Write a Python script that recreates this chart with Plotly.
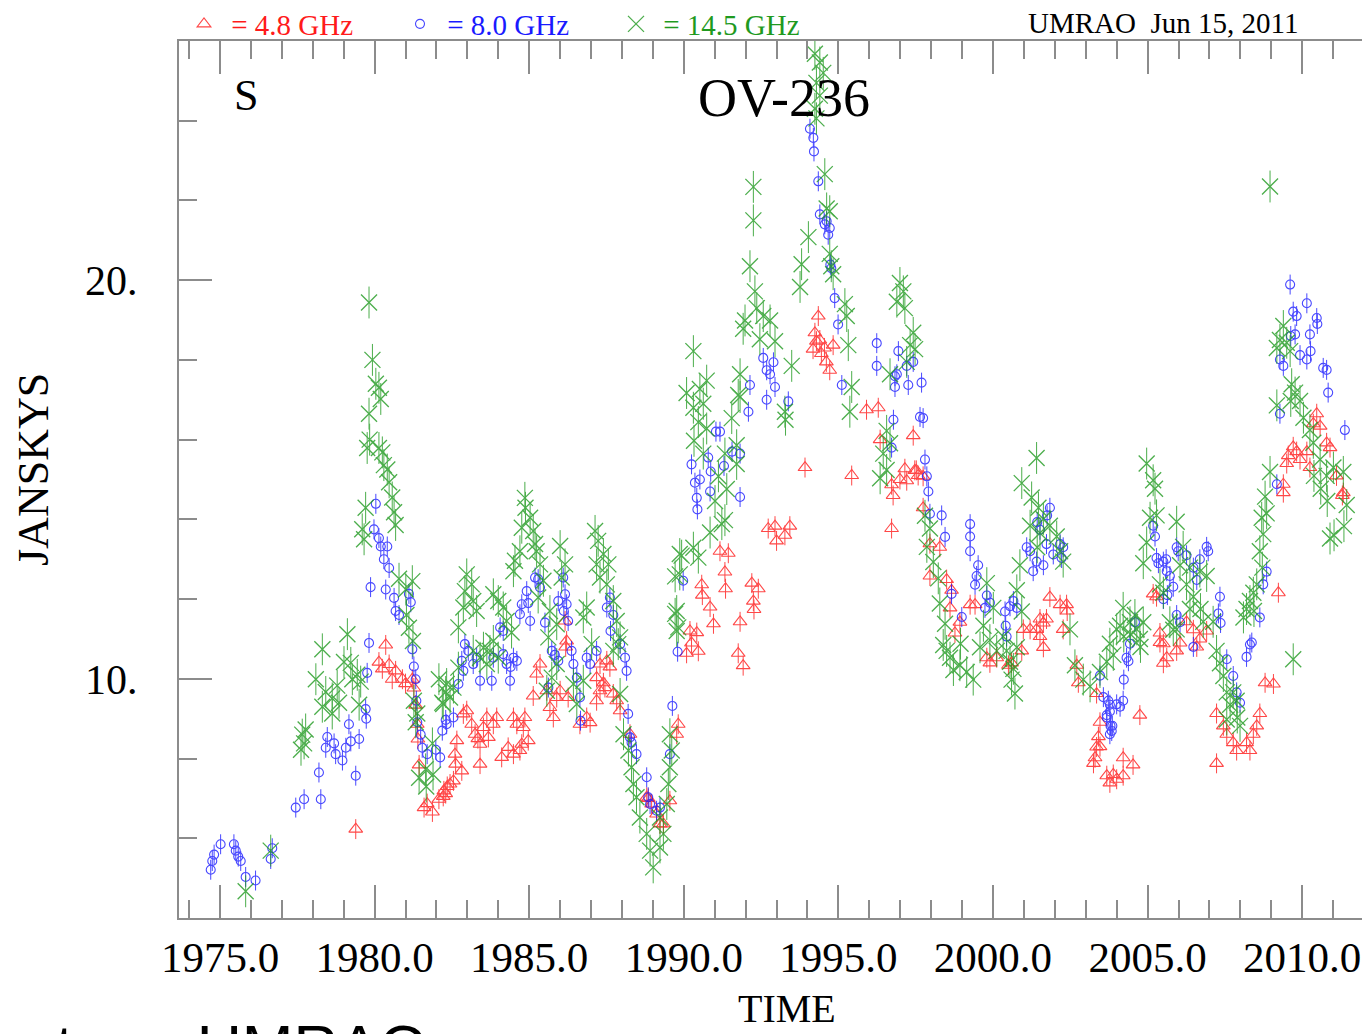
import plotly.graph_objects as go

# ---------------- data (decimal year, flux density in Jy) ----------------
red_t = [1979.39, 1980.36, 1980.14, 1980.25, 1980.47, 1980.68, 1980.57, 1980.90, 1981.00, 1981.22,
         1981.27, 1981.33, 1981.38, 1981.40, 1981.44, 1981.60, 1981.70, 1981.87, 1982.08, 1982.24,
         1982.35, 1982.44, 1982.30, 1982.55, 1982.22, 1982.66, 1982.60, 1982.62, 1982.82, 1982.87,
         1982.98, 1983.14, 1983.25, 1983.41, 1983.52, 1983.63, 1983.68, 1983.84, 1983.95, 1983.41,
         1983.34, 1984.11, 1984.32, 1984.49, 1984.60, 1984.49, 1984.81, 1984.86, 1984.76, 1984.97,
         1984.70, 1985.13, 1985.24, 1985.35, 1985.57, 1985.67, 1985.78, 1985.89, 1986.00, 1986.16,
         1986.21, 1986.18, 1986.26, 1986.86, 1986.64, 1986.97, 1987.29, 1987.51, 1987.61, 1987.18,
         1987.40, 1987.29, 1987.18, 1987.45, 1987.72, 1987.83, 1987.94, 1988.26, 1988.80, 1988.85,
         1988.96, 1989.12, 1989.23, 1989.34, 1989.55, 1989.77, 1989.82, 1990.20, 1990.42, 1990.25,
         1990.09, 1990.47, 1990.58, 1990.60, 1990.85, 1990.96, 1991.17, 1991.44, 1991.33, 1991.35,
         1991.82, 1991.76, 1991.92, 1992.20, 1992.41, 1992.25, 1992.27, 1992.73, 1992.95, 1993.43,
         1993.00, 1993.27, 1993.92, 1994.35, 1994.24, 1994.29, 1994.18, 1994.45, 1994.61, 1994.72,
         1994.83, 1994.40, 1994.55, 1995.43, 1995.91, 1996.29, 1996.35, 1996.72, 1996.77, 1996.72,
         1997.21, 1997.42, 1997.58, 1997.74, 1997.15, 1997.47, 1997.52, 1996.99, 1997.74, 1997.96,
         1998.28, 1997.96, 1998.50, 1998.66, 1998.61, 1998.77, 1999.26, 1999.42, 1998.93, 1999.80,
         1999.90, 2000.12, 2000.50, 2000.60, 2000.93, 2000.98, 2001.20, 2001.41, 2001.52, 2001.63,
         2001.73, 2001.52, 2001.63, 2001.84, 2002.17, 2002.38, 2002.40, 2002.27, 2002.71, 2002.76,
         2003.35, 2003.46, 2003.41, 2003.35, 2003.30, 2003.68, 2003.78, 2004.00, 2004.21, 2004.21,
         2004.53, 2004.75, 2003.25, 2003.89, 2003.46, 2005.18, 2005.40, 2005.51, 2005.62, 2005.94,
         2005.29, 2005.40, 2005.51, 2006.05, 2006.26, 2006.48, 2006.59, 2006.69, 2006.91, 2007.23,
         2007.45, 2007.56, 2007.77, 2007.88, 2008.20, 2008.42, 2008.53, 2008.63, 2008.31, 2007.23,
         2008.80, 2009.07, 2009.23, 2009.39, 2009.39, 2009.50, 2009.55, 2009.71, 2009.82, 2009.93,
         2010.15, 2010.25, 2010.36, 2010.47, 2010.58, 2010.79, 2010.90, 2011.11, 2011.33, 2011.30]
red_s = [6.23, 10.85, 10.42, 10.25, 10.36, 10.20, 9.99, 9.99, 9.88, 9.99,
         9.77, 9.34, 8.86, 8.49, 7.84, 6.77, 6.87, 6.66, 6.98, 7.19,
         7.30, 7.36, 7.12, 7.44, 7.05, 8.45, 8.11, 7.86, 7.69, 9.12,
         9.20, 8.86, 8.61, 8.36, 8.78, 9.03, 8.53, 8.86, 9.03, 7.86,
         8.50, 8.03, 8.28, 8.11, 8.86, 9.03, 8.78, 9.03, 8.36, 8.45,
         8.20, 9.57, 10.12, 10.37, 9.70, 9.28, 9.03, 9.53, 9.70, 11.45,
         10.95, 10.80, 9.53, 9.03, 8.86, 8.90, 10.37, 10.45, 10.30, 10.03,
         9.90, 9.70, 9.45, 9.78, 9.62, 9.45, 9.20, 8.61, 7.03, 7.00,
         6.86, 6.61, 6.36, 6.36, 6.94, 8.61, 8.86, 11.20, 11.16, 10.90,
         10.64, 10.69, 12.36, 12.10, 11.80, 11.38, 13.20, 13.15, 12.68, 12.26,
         11.43, 10.64, 10.33, 12.40, 12.26, 11.95, 11.74, 13.77, 13.83, 13.83,
         13.46, 13.60, 15.30, 19.10, 18.68, 18.47, 18.27, 18.16, 17.95, 17.74,
         18.37, 18.50, 18.30, 15.10, 16.75, 16.80, 16.00, 14.87, 14.60, 13.77,
         14.97, 16.10, 15.10, 15.08, 15.27, 15.23, 15.23, 15.00, 14.29, 13.39,
         13.30, 12.58, 12.49, 12.22, 11.78, 11.15, 11.86, 11.86, 11.42, 10.53,
         10.40, 10.53, 10.34, 10.40, 10.70, 11.24, 11.24, 11.24, 11.50, 11.40,
         11.50, 11.06, 10.79, 12.05, 11.86, 11.86, 11.70, 11.24, 10.34, 9.90,
         9.63, 8.91, 8.55, 8.29, 8.02, 7.57, 7.39, 7.48, 7.57, 8.02,
         7.84, 9.09, 7.88, 7.60, 8.30, 12.13, 11.15, 10.88, 10.53, 10.70,
         12.06, 10.91, 10.39, 10.90, 11.43, 11.23, 10.80, 11.00, 11.20, 9.13,
         8.82, 8.61, 8.40, 8.20, 8.40, 8.61, 8.82, 9.13, 8.20, 7.88,
         9.90, 9.87, 12.16, 14.88, 14.67, 15.40, 15.60, 15.82, 15.70, 15.50,
         15.70, 15.30, 16.40, 16.65, 16.34, 15.92, 15.80, 15.09, 14.67, 14.60]

blue_t = [1974.70, 1974.75, 1974.81, 1975.02, 1975.45, 1975.51, 1975.59, 1975.67, 1975.83, 1976.15,
          1976.69, 1976.64, 1977.45, 1977.72, 1978.26, 1978.20, 1978.47, 1978.42, 1978.69, 1978.74,
          1978.96, 1979.07, 1979.17, 1979.23, 1979.50, 1979.39, 1979.71, 1979.73, 1979.76, 1979.82,
          1979.87, 1980.04, 1979.98, 1980.14, 1980.20, 1980.41, 1980.30, 1980.47, 1980.36, 1980.63,
          1980.68, 1980.79, 1981.11, 1981.17, 1981.22, 1981.27, 1981.33, 1981.35, 1981.38, 1981.49,
          1981.54, 1981.70, 1981.98, 1982.19, 1982.30, 1982.33, 1982.55, 1982.71, 1982.12, 1982.92,
          1983.03, 1982.82, 1982.87, 1983.19, 1983.41, 1983.30, 1983.79, 1983.84, 1984.16, 1984.27,
          1984.38, 1984.60, 1984.49, 1984.40, 1984.06, 1984.16, 1984.70, 1984.76, 1984.92, 1985.03,
          1985.19, 1985.29, 1985.35, 1984.97, 1985.51, 1985.73, 1985.83, 1985.62, 1985.94, 1986.10,
          1986.16, 1985.94, 1986.21, 1986.12, 1986.26, 1986.37, 1986.43, 1986.54, 1986.64, 1986.66,
          1986.86, 1986.97, 1987.18, 1987.61, 1987.51, 1987.72, 1987.63, 1987.94, 1988.10, 1988.15,
          1988.20, 1988.26, 1988.31, 1988.47, 1988.80, 1988.85, 1988.91, 1989.12, 1989.23, 1989.55,
          1989.63, 1989.80, 1989.98, 1990.25, 1990.36, 1990.42, 1990.44, 1991.17, 1990.79, 1990.52,
          1990.85, 1991.82, 1991.82, 1990.87, 1991.04, 1991.56, 1991.30, 1992.14, 1992.09, 1992.57,
          1992.68, 1992.79, 1992.90, 1992.95, 1992.68, 1993.38, 1994.08, 1994.19, 1994.21, 1994.35,
          1994.40, 1994.62, 1994.72, 1994.67, 1994.74, 1994.88, 1994.99, 1994.56, 1994.77, 1995.11,
          1996.24, 1996.24, 1996.94, 1996.89, 1997.21, 1997.42, 1997.26, 1997.69, 1996.83, 1996.78,
          1997.74, 1996.72, 1997.80, 1997.86, 1997.91, 1997.96, 1998.34, 1998.45, 1996.83, 1997.64,
          1998.66, 1998.99, 1999.26, 1999.26, 1999.26, 1999.52, 1999.47, 1999.42, 1999.80, 1999.90,
          1999.74, 2000.39, 2000.55, 2000.77, 2000.66, 2000.41, 2000.44, 2001.09, 2001.20, 2001.41,
          2001.63, 2001.30, 2001.73, 2001.84, 2001.52, 2001.95, 2002.17, 2002.22, 2002.27, 2001.43,
          2001.75, 2003.46, 2003.57, 2003.73, 2003.78, 2003.68, 2003.80, 2003.84, 2004.00, 2004.21,
          2004.23, 2004.32, 2004.43, 2004.59, 2005.18, 2005.24, 2005.29, 2005.51, 2005.62, 2005.72,
          2005.94, 2005.83, 2005.64, 2006.05, 2005.35, 2005.60, 2005.99, 2006.26, 2006.48, 2006.69,
          2006.91, 2006.96, 2006.59, 2007.34, 2007.29, 2007.36, 2006.48, 2005.94, 2005.51, 2004.38,
          2003.78, 2003.68, 2003.86, 2003.78, 2004.11, 2007.56, 2007.77, 2007.88, 2007.99, 2008.37,
          2008.20, 2008.31, 2008.63, 2008.74, 2008.85, 2009.18, 2009.28, 2009.61, 2009.71, 2009.82,
          2009.77, 2009.63, 2010.15, 2010.47, 2010.49, 2010.25, 2010.27, 2010.15, 2009.93, 2009.28,
          2009.39, 2010.68, 2010.79, 2010.84, 2011.38]
blue_s = [5.21, 5.43, 5.59, 5.85, 5.85, 5.69, 5.54, 5.43, 5.03, 4.94,
          5.75, 5.48, 6.77, 6.98, 6.98, 7.65, 8.54, 8.27, 8.38, 8.11,
          7.95, 8.27, 8.86, 8.43, 8.49, 7.57, 9.24, 9.00, 10.15, 10.90,
          12.30, 14.39, 13.75, 13.53, 13.32, 13.32, 13.00, 12.78, 12.24, 12.03,
          11.70, 11.60, 12.13, 11.92, 10.74, 10.31, 9.99, 9.45, 8.91, 8.60,
          8.27, 8.11, 8.22, 8.70, 8.97, 8.86, 9.03, 9.87, 8.03, 10.87,
          10.70, 10.45, 10.20, 10.37, 9.95, 10.53, 9.95, 10.53, 10.62, 10.37,
          9.95, 10.45, 10.53, 10.30, 11.29, 11.20, 11.62, 11.87, 12.20, 11.45,
          12.54, 12.50, 12.29, 11.90, 11.41, 10.70, 10.60, 9.78, 10.45, 12.54,
          12.12, 11.95, 11.87, 11.70, 11.45, 10.70, 10.37, 10.03, 9.53, 8.95,
          10.53, 10.37, 10.70, 12.04, 11.79, 11.60, 11.20, 10.87, 10.53, 10.20,
          9.12, 8.53, 8.40, 8.11, 7.53, 7.03, 6.86, 6.69, 6.77, 8.11,
          9.32, 10.68, 12.46, 15.38, 14.92, 14.54, 14.25, 16.20, 15.55, 15.00,
          14.70, 15.65, 14.56, 15.20, 16.20, 15.70, 15.34, 17.37, 16.70, 18.05,
          17.74, 17.64, 17.94, 17.32, 17.00, 16.96, 23.80, 23.57, 23.23, 22.48,
          21.65, 21.48, 21.31, 21.14, 20.39, 19.55, 18.89, 21.40, 20.30, 17.37,
          18.42, 17.85, 18.22, 17.64, 17.85, 17.95, 17.37, 17.43, 17.32, 16.50,
          16.54, 15.80, 15.50, 15.08, 14.70, 14.14, 14.10, 13.56, 17.59, 16.57,
          12.13, 11.55, 13.88, 13.57, 13.20, 12.85, 12.58, 12.36, 12.09, 11.91,
          11.78, 11.69, 11.82, 11.78, 11.95, 11.33, 11.06, 13.30, 13.20, 12.94,
          12.85, 12.70, 13.38, 14.29, 13.74, 13.12, 13.38, 13.03, 13.30, 13.93,
          14.10, 10.08, 9.54, 9.45, 9.18, 9.09, 8.82, 8.69, 9.36, 9.45,
          9.98, 10.53, 10.88, 11.42, 13.84, 13.57, 13.03, 12.94, 12.70, 12.58,
          13.30, 12.31, 12.10, 11.42, 12.90, 13.00, 13.20, 13.10, 12.79, 13.00,
          13.31, 13.20, 12.48, 12.06, 11.64, 11.40, 10.80, 11.60, 12.00, 10.44,
          9.35, 9.03, 8.82, 8.61, 9.30, 10.49, 10.07, 9.66, 9.40, 10.91,
          10.55, 10.86, 11.54, 12.37, 12.69, 14.88, 16.65, 19.89, 19.21, 19.10,
          18.64, 18.60, 19.42, 19.05, 18.90, 18.64, 18.22, 18.01, 18.12, 18.01,
          17.85, 17.80, 17.75, 17.18, 16.24]

green_t = [1975.83, 1976.64, 1977.66, 1977.72, 1977.62, 1977.77, 1978.10, 1978.31, 1978.42, 1978.31,
           1978.63, 1978.79, 1979.12, 1979.01, 1979.23, 1979.28, 1979.44, 1979.50, 1979.55, 1978.63,
           1978.85, 1979.82, 1979.93, 1980.04, 1980.14, 1980.20, 1979.82, 1979.84, 1979.76, 1980.14,
           1980.25, 1980.30, 1980.41, 1980.47, 1980.57, 1980.63, 1980.68, 1979.71, 1979.60, 1979.66,
           1980.79, 1981.01, 1981.22, 1981.03, 1981.11, 1981.24, 1981.27, 1981.38, 1981.33, 1981.87,
           1981.65, 1981.44, 1981.67, 1981.89, 1982.08, 1982.30, 1982.19, 1982.98, 1983.14, 1982.92,
           1983.19, 1982.87, 1983.30, 1982.71, 1982.33, 1982.55, 1982.44, 1982.22, 1982.71, 1983.52,
           1983.73, 1983.41, 1983.63, 1983.84, 1983.19, 1984.00, 1983.84, 1984.00, 1984.16, 1984.27,
           1984.43, 1984.86, 1984.88, 1985.03, 1984.76, 1985.13, 1985.19, 1984.70, 1984.54, 1985.24,
           1984.49, 1985.35, 1985.46, 1985.29, 1985.67, 1985.89, 1986.00, 1986.16, 1986.05, 1985.62,
           1985.73, 1985.57, 1985.89, 1986.43, 1986.54, 1986.75, 1987.13, 1987.23, 1987.40, 1987.18,
           1987.56, 1987.29, 1987.51, 1986.86, 1986.75, 1987.02, 1987.72, 1987.83, 1987.94, 1987.88,
           1987.72, 1987.94, 1988.05, 1988.21, 1988.31, 1988.37, 1988.47, 1988.58, 1988.80, 1988.91,
           1989.01, 1989.23, 1989.34, 1989.23, 1989.45, 1989.50, 1989.55, 1989.61, 1989.55, 1989.87,
           1990.31, 1989.87, 1989.77, 1989.82, 1990.31, 1990.74, 1990.52, 1990.09, 1990.31, 1990.63,
           1990.47, 1990.74, 1990.33, 1990.63, 1991.33, 1991.71, 1991.71, 1991.12, 1991.39, 1991.01,
           1991.33, 1991.23, 1990.85, 1989.93, 1990.47, 1989.72, 1989.72, 1989.77, 1991.55, 1991.82,
           1992.25, 1992.25, 1992.14, 1992.30, 1992.36, 1991.98, 1991.92, 1992.57, 1992.79, 1992.46,
           1992.95, 1991.82, 1991.76, 1993.49, 1993.27, 1993.29, 1994.24, 1994.40, 1994.51, 1994.29,
           1994.40, 1994.24, 1994.29, 1994.56, 1994.62, 1994.72, 1994.77, 1994.83, 1994.03, 1993.81,
           1993.76, 1995.21, 1995.27, 1995.32, 1995.43, 1995.37, 1994.72, 1996.99, 1997.10, 1997.15,
           1996.89, 1997.42, 1997.32, 1997.48, 1997.21, 1996.67, 1996.56, 1996.67, 1996.45, 1996.56,
           1996.35, 1997.80, 1997.96, 1997.86, 1998.07, 1998.23, 1998.28, 1998.45, 1998.39, 1998.61,
           1998.72, 1998.50, 1998.93, 1999.15, 1999.36, 1998.95, 1999.80, 2000.01, 1999.69, 1999.90,
           1999.58, 2000.12, 2000.33, 2000.55, 2000.60, 2000.71, 2000.66, 2000.44, 2000.77, 2000.93,
           2000.77, 2000.87, 2000.93, 2001.25, 2001.41, 2001.47, 2001.63, 2001.20, 2001.52, 2001.84,
           2002.06, 2002.17, 2002.27, 2001.43, 2002.49, 2002.65, 2002.92, 2003.14, 2003.46, 2003.68,
           2003.78, 2004.00, 2004.21, 2004.23, 2004.43, 2004.65, 2004.86, 2004.59, 2004.75, 2003.89,
           2004.11, 2004.45, 2004.77, 2004.97, 2005.18, 2005.24, 2005.08, 2004.97, 2004.86, 2005.40,
           2005.51, 2005.94, 2006.15, 2006.37, 2006.69, 2006.91, 2006.26, 2006.48, 2006.37, 2005.83,
           2006.71, 2006.80, 2007.12, 2007.23, 2007.34, 2007.45, 2007.56, 2007.67, 2007.77, 2007.88,
           2007.90, 2007.99, 2007.56, 2005.29, 2005.72, 2005.94, 2006.05, 2008.96, 2009.39, 2009.50,
           2009.28, 2009.61, 2009.18, 2009.66, 2009.77, 2009.93, 2009.63, 2009.18, 2010.04, 2010.25,
           2010.36, 2010.58, 2010.38, 2010.79, 2011.01, 2011.33, 2010.60, 2010.81, 2011.44, 2011.35,
           2010.90, 2011.03, 2008.96, 2008.80, 2008.85, 2008.69, 2008.74, 2008.63, 2008.71, 2008.53,
           2008.42, 2008.31, 2008.20, 2008.44, 2008.10, 2009.71]
green_s = [4.67, 5.69, 8.60, 8.38, 8.22, 8.73, 9.99, 10.74, 9.67, 9.30,
           9.51, 9.83, 11.12, 10.42, 10.40, 9.99, 10.10, 9.35, 9.93, 9.13,
           9.40, 19.44, 18.00, 17.40, 17.30, 17.02, 16.65, 16.00, 15.79, 15.79,
           15.68, 15.36, 15.25, 14.93, 14.55, 14.18, 13.86, 14.29, 13.75, 13.50,
           12.51, 12.24, 12.45, 11.60, 11.28, 10.95, 9.45, 9.13, 8.91, 8.38,
           7.73, 7.52, 7.30, 7.60, 9.99, 9.67, 9.40, 12.62, 12.37, 12.20,
           11.95, 11.79, 11.70, 11.29, 9.87, 9.78, 9.53, 9.37, 10.28, 10.78,
           10.70, 10.53, 10.37, 10.95, 10.70, 10.53, 12.12, 11.95, 11.79, 11.45,
           11.16, 14.54, 14.29, 14.04, 13.79, 13.71, 13.38, 13.20, 12.96, 13.20,
           12.70, 12.87, 12.46, 12.04, 11.70, 11.37, 13.33, 12.87, 12.54, 11.04,
           10.03, 9.70, 10.37, 9.87, 9.37, 9.95, 13.71, 13.46, 13.13, 12.87,
           12.87, 12.54, 12.37, 11.79, 11.54, 10.87, 11.95, 11.45, 11.04, 10.87,
           10.70, 9.62, 8.61, 8.20, 7.78, 7.36, 7.03, 6.52, 6.11, 5.69,
           5.27, 5.77, 6.11, 6.52, 6.86, 7.36, 7.78, 8.20, 8.61, 13.13,
           13.29, 12.62, 11.70, 11.29, 18.22, 17.48, 17.27, 17.17, 16.80, 16.90,
           16.44, 16.28, 15.97, 15.65, 15.65, 15.86, 15.39, 15.08, 14.76, 14.46,
           13.98, 13.88, 13.67, 13.09, 13.04, 12.57, 11.63, 11.20, 16.54, 17.07,
           22.34, 21.50, 20.35, 19.72, 19.30, 18.99, 18.78, 19.10, 18.99, 18.52,
           18.47, 17.64, 17.12, 17.85, 16.70, 16.50, 25.68, 25.46, 25.20, 24.95,
           24.63, 24.30, 24.06, 22.66, 21.80, 20.66, 20.35, 20.15, 21.08, 20.40,
           19.83, 19.40, 19.10, 18.37, 17.32, 16.70, 21.73, 19.93, 19.72, 19.30,
           19.46, 18.68, 18.37, 18.27, 17.95, 17.64, 16.22, 15.91, 15.65, 15.24,
           15.03, 14.09, 13.77, 13.31, 12.93, 12.52, 11.89, 11.38, 10.85, 10.53,
           10.22, 10.70, 10.34, 10.17, 9.98, 10.88, 12.40, 11.78, 11.33, 10.97,
           10.79, 10.70, 11.06, 10.43, 9.98, 9.63, 10.25, 10.70, 10.79, 11.69,
           12.22, 12.85, 14.91, 14.55, 15.54, 14.29, 14.01, 13.84, 13.66, 13.84,
           13.57, 13.20, 12.94, 13.30, 11.24, 10.34, 9.98, 9.81, 10.17, 10.43,
           10.88, 11.24, 11.78, 11.06, 11.42, 11.24, 11.42, 11.60, 11.00, 10.60,
           11.33, 11.12, 10.80, 15.40, 14.98, 14.77, 14.04, 13.42, 12.90, 12.37,
           12.16, 13.94, 13.31, 12.79, 12.69, 12.58, 12.37, 12.06, 11.75, 11.23,
           11.75, 11.43, 11.43, 10.70, 10.39, 10.07, 9.66, 9.35, 9.66, 9.45,
           9.03, 8.82, 8.98, 14.10, 11.42, 11.24, 12.85, 22.35, 18.85, 18.43,
           18.50, 18.22, 18.30, 17.39, 17.18, 16.97, 16.97, 16.86, 16.55, 16.24,
           15.92, 15.50, 15.09, 15.09, 15.30, 15.19, 14.77, 14.46, 14.36, 13.83,
           13.52, 13.60, 15.19, 14.57, 14.15, 14.04, 13.63, 13.20, 12.79, 12.37,
           12.16, 11.95, 11.75, 11.70, 11.54, 10.49]

series_names = ["= 4.8 GHz", "= 8.0 GHz", "= 14.5 GHz"]
x_ticks = [1975, 1980, 1985, 1990, 1995, 2000, 2005, 2010]

# ---------------- styling ----------------
SERIF = "Liberation Serif"
RED, BLUE, GREEN = "#ff1a1a", "#1a1aff", "#1f9a1f"
AXC = "#8c8c8c"
W, H = 1362, 1026          # page has an 8px body margin; figure fills the rest of the window
OFF = 8

fig = go.Figure()

def add_series(t, s, name, color, symbol, size, err, lw):
    fig.add_trace(go.Scatter(
        x=t, y=s, mode="markers",
        name="<span style='color:%s'> %s</span>" % (color, name),
        marker=dict(symbol=symbol, size=size, color=color, line=dict(color=color, width=lw)),
        error_y=dict(type="constant", value=err, color=color, thickness=1, width=0),
        opacity=0.8, hoverinfo="skip"))

add_series(red_t, red_s, series_names[0], RED, "triangle-up-open", 12, 0.25, 1.1)
add_series(blue_t, blue_s, series_names[1], BLUE, "circle-open", 9, 0.25, 1.1)
add_series(green_t, green_s, series_names[2], GREEN, "x-thin-open", 16, 0.4, 1.3)

fig.update_layout(
    width=W, height=H,
    margin=dict(l=179 - OFF, r=0, t=41 - OFF, b=H - (918 - OFF), autoexpand=False),
    paper_bgcolor="white", plot_bgcolor="white",
    showlegend=True,
    legend=dict(orientation="h", xref="container", yref="container",
                x=(204 - 20 - OFF) / W, y=1 - (24 - OFF) / H, xanchor="left", yanchor="middle",
                entrywidth=171, entrywidthmode="pixels",
                font=dict(family=SERIF, size=29, color="black"),
                bgcolor="rgba(0,0,0,0)", itemsizing="trace", traceorder="normal"),
    xaxis=dict(range=[1973.674, 2012.193], tickmode="array", tickvals=x_ticks,
               tickformat=".1f", ticks="inside", ticklen=33, tickwidth=1.5, tickcolor=AXC,
               minor=dict(dtick=1, tick0=1975, ticks="inside", ticklen=18, tickwidth=1.5, tickcolor=AXC),
               showline=True, linecolor=AXC, linewidth=2, mirror="allticks",
               showgrid=False, zeroline=False,
               tickfont=dict(family=SERIF, size=43, color="black"), ticklabelstandoff=0),
    yaxis=dict(range=[4, 26], tick0=0, dtick=10, ticksuffix=".",
               ticks="inside", ticklen=33, tickwidth=1.5, tickcolor=AXC,
               minor=dict(dtick=2, tick0=0, ticks="inside", ticklen=18, tickwidth=1.5, tickcolor=AXC),
               showline=True, linecolor=AXC, linewidth=2, mirror=False,
               showgrid=False, zeroline=False,
               tickfont=dict(family=SERIF, size=42, color="black"), ticklabelstandoff=31),
    yaxis2=dict(overlaying="y", side="right", range=[4, 26], tick0=0, dtick=10,
                ticks="inside", ticklen=27, tickwidth=1.5, tickcolor=AXC,
                minor=dict(dtick=2, tick0=0, ticks="inside", ticklen=12, tickwidth=1.5, tickcolor=AXC),
                showticklabels=False, showline=False, showgrid=False, zeroline=False),
)

# helpers: page pixel -> paper fraction of the plot area (plot area spans x 179..1370, y 41..918)
def px_x(p):
    return (p - 179) / 1191.0

def px_y(p):
    return (918 - p) / 877.0

ann = [
    dict(text="UMRAO&nbsp; Jun 15, 2011", x=px_x(1300), y=px_y(23), xanchor="right", yanchor="middle",
         font=dict(family=SERIF, size=29, color="black")),
    dict(text="OV-236", x=px_x(784), y=px_y(98), xanchor="center", yanchor="middle",
         font=dict(family=SERIF, size=54, color="black")),
    dict(text="S", x=px_x(246), y=px_y(95), xanchor="center", yanchor="middle",
         font=dict(family=SERIF, size=44, color="black")),
    dict(text="TIME", x=px_x(787), y=px_y(1009), xanchor="center", yanchor="middle",
         font=dict(family=SERIF, size=40, color="black")),
    dict(text="JANSKYS", x=px_x(33), y=px_y(470), xanchor="center", yanchor="middle", textangle=-90,
         font=dict(family=SERIF, size=44, color="black")),
    dict(text="ter", x=px_x(54), y=px_y(1046), xanchor="left", yanchor="middle",
         font=dict(family="Liberation Sans", size=62, color="black")),
    dict(text="UMRAO", x=px_x(195), y=px_y(1046), xanchor="left", yanchor="middle",
         font=dict(family="Liberation Sans", size=62, color="black")),
]
for a in ann:
    a.update(xref="paper", yref="paper", showarrow=False)
fig.update_layout(annotations=ann)

fig.write_html("out.html", config={"displayModeBar": False})
